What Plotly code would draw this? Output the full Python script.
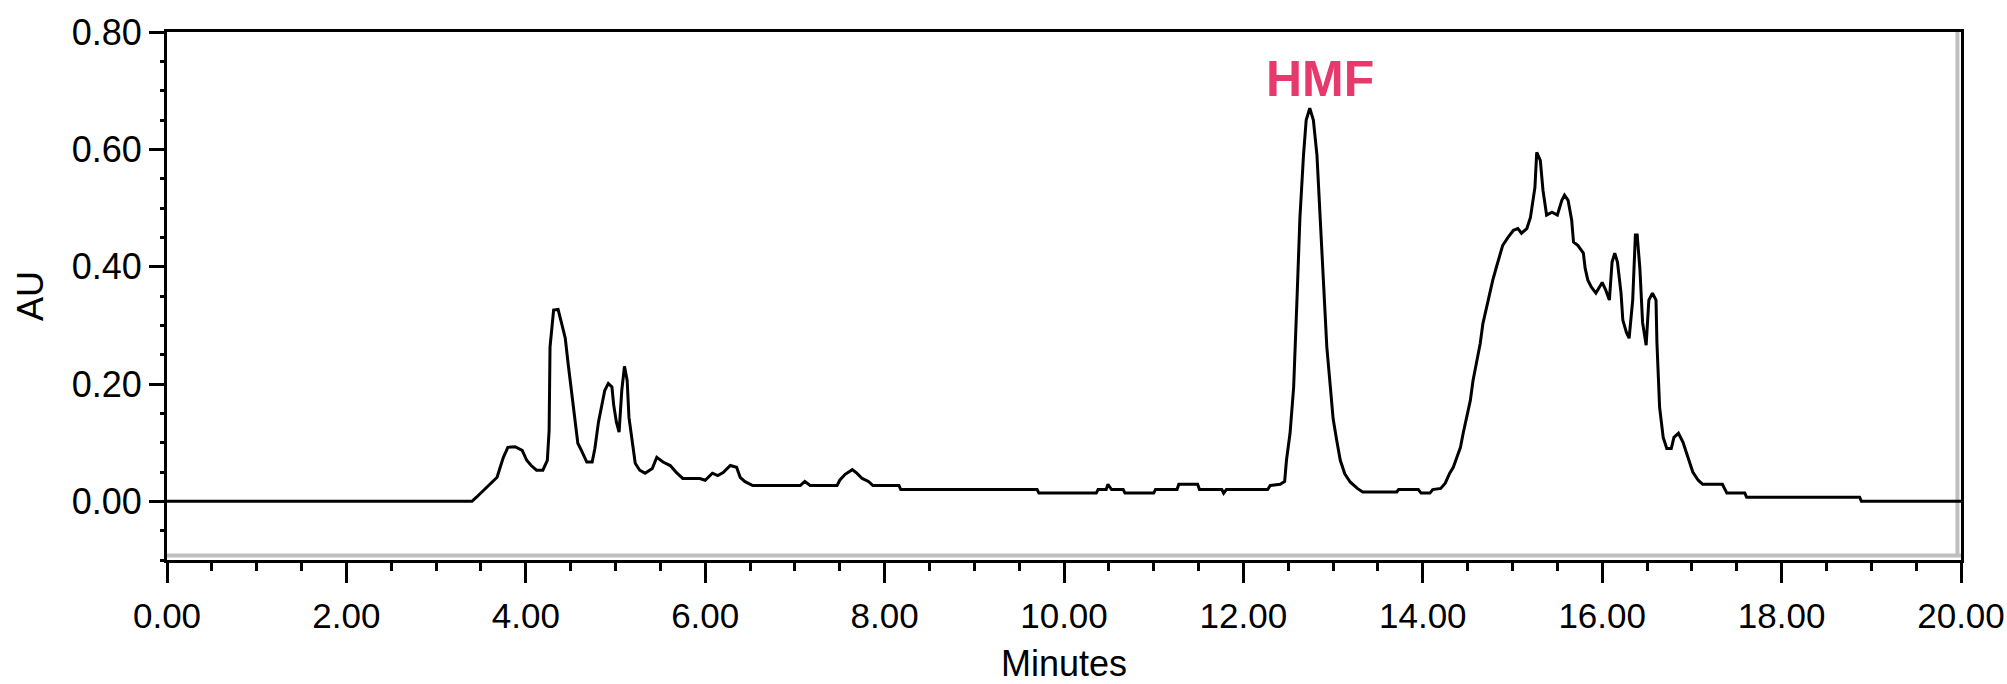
import plotly.graph_objects as go

# Retention time (minutes) and absorbance (AU)
minutes = [
    0.00, 3.40, 3.45, 3.53, 3.60, 3.68, 3.71, 3.75, 3.80, 3.88, 3.96, 4.01, 4.06, 4.12, 4.19,
    4.24, 4.26, 4.27, 4.31, 4.36, 4.40, 4.44, 4.47, 4.51, 4.55, 4.58, 4.62, 4.68, 4.74, 4.77,
    4.81, 4.85, 4.88, 4.92, 4.96, 4.98, 5.01, 5.04, 5.07, 5.10, 5.13, 5.15, 5.19, 5.22, 5.27,
    5.33, 5.41, 5.46, 5.53, 5.61, 5.68, 5.75, 5.94, 6.00, 6.08, 6.14, 6.20, 6.28, 6.35, 6.39,
    6.44, 6.53, 7.06, 7.11, 7.17, 7.47, 7.50, 7.56, 7.64, 7.69, 7.75, 7.82, 7.87, 8.16, 8.18,
    9.70, 9.72, 10.36, 10.38, 10.47, 10.49, 10.53, 10.66, 10.68, 11.00, 11.02, 11.26, 11.28, 11.49, 11.51,
    11.76, 11.78, 11.81, 12.27, 12.30, 12.41, 12.46, 12.48, 12.52, 12.56, 12.60, 12.63, 12.67, 12.70, 12.74,
    12.78, 12.82, 12.85, 12.89, 12.93, 12.97, 13.00, 13.04, 13.08, 13.13, 13.19, 13.27, 13.33, 13.71, 13.73,
    13.95, 13.98, 14.08, 14.11, 14.20, 14.25, 14.30, 14.34, 14.38, 14.42, 14.45, 14.49, 14.53, 14.56, 14.60,
    14.64, 14.67, 14.71, 14.75, 14.78, 14.82, 14.86, 14.89, 14.95, 15.01, 15.06, 15.10, 15.16, 15.20, 15.25,
    15.27, 15.31, 15.34, 15.38, 15.44, 15.50, 15.55, 15.58, 15.62, 15.66, 15.68, 15.73, 15.79, 15.81, 15.84,
    15.88, 15.93, 16.00, 16.04, 16.08, 16.11, 16.14, 16.17, 16.21, 16.23, 16.27, 16.30, 16.34, 16.37, 16.39,
    16.42, 16.45, 16.49, 16.52, 16.56, 16.60, 16.61, 16.64, 16.68, 16.72, 16.77, 16.80, 16.85, 16.90, 16.94,
    16.98, 17.01, 17.07, 17.12, 17.34, 17.39, 17.59, 17.61, 18.87, 18.89, 20.00,
]
absorbance = [
    0.000, 0.000, 0.007, 0.019, 0.030, 0.041, 0.056, 0.075, 0.092, 0.093, 0.087, 0.070, 0.061, 0.053, 0.053,
    0.070, 0.121, 0.263, 0.326, 0.327, 0.303, 0.278, 0.237, 0.189, 0.133, 0.099, 0.087, 0.067, 0.067, 0.090,
    0.135, 0.169, 0.189, 0.201, 0.195, 0.164, 0.135, 0.118, 0.189, 0.230, 0.206, 0.143, 0.099, 0.065, 0.053,
    0.048, 0.056, 0.075, 0.067, 0.061, 0.049, 0.039, 0.039, 0.036, 0.048, 0.044, 0.049, 0.061, 0.058, 0.041,
    0.034, 0.027, 0.027, 0.034, 0.027, 0.027, 0.036, 0.046, 0.054, 0.048, 0.039, 0.034, 0.027, 0.027, 0.020,
    0.020, 0.014, 0.014, 0.020, 0.020, 0.029, 0.020, 0.020, 0.014, 0.014, 0.020, 0.020, 0.029, 0.029, 0.020,
    0.020, 0.014, 0.020, 0.020, 0.027, 0.029, 0.034, 0.070, 0.116, 0.194, 0.355, 0.483, 0.590, 0.650, 0.670,
    0.650, 0.590, 0.501, 0.402, 0.263, 0.194, 0.141, 0.104, 0.070, 0.047, 0.033, 0.022, 0.016, 0.016, 0.020,
    0.020, 0.014, 0.014, 0.020, 0.022, 0.031, 0.048, 0.058, 0.075, 0.092, 0.116, 0.143, 0.172, 0.206, 0.240,
    0.269, 0.303, 0.331, 0.355, 0.377, 0.399, 0.423, 0.436, 0.450, 0.462, 0.465, 0.457, 0.465, 0.484, 0.535,
    0.595, 0.581, 0.530, 0.488, 0.493, 0.488, 0.513, 0.522, 0.513, 0.479, 0.442, 0.436, 0.423, 0.397, 0.377,
    0.365, 0.355, 0.373, 0.360, 0.343, 0.408, 0.423, 0.408, 0.355, 0.309, 0.288, 0.278, 0.343, 0.454, 0.454,
    0.397, 0.305, 0.266, 0.343, 0.355, 0.343, 0.271, 0.160, 0.109, 0.090, 0.090, 0.109, 0.116, 0.101, 0.082,
    0.065, 0.050, 0.036, 0.029, 0.029, 0.014, 0.014, 0.007, 0.007, 0.000, 0.000,
]

x_tick_vals = [0, 2, 4, 6, 8, 10, 12, 14, 16, 18, 20]
x_tick_text = ["0.00", "2.00", "4.00", "6.00", "8.00", "10.00", "12.00", "14.00", "16.00", "18.00", "20.00"]
y_tick_vals = [0.0, 0.2, 0.4, 0.6, 0.8]
y_tick_text = ["0.00", "0.20", "0.40", "0.60", "0.80"]

peak_label = "HMF"
peak_time = 12.85
peak_label_y = 0.72

fig = go.Figure()
fig.add_trace(go.Scatter(
    x=minutes, y=absorbance, mode="lines",
    line=dict(color="black", width=3), showlegend=False, hoverinfo="skip",
))

regular = "Liberation Sans, Arial, sans-serif"

fig.update_layout(
    width=2007, height=684,
    margin=dict(l=167, r=46, t=32, b=124, autoexpand=False),
    paper_bgcolor="white", plot_bgcolor="white",
    shapes=[
        dict(type="line", xref="paper", yref="paper", x0=0, x1=1, y0=0.0085, y1=0.0085,
             line=dict(color="#C0C0C0", width=4), layer="below"),
        dict(type="line", xref="paper", yref="paper", x0=0.998, x1=0.998, y0=0.0085, y1=1,
             line=dict(color="#C0C0C0", width=4), layer="below"),
    ],
    annotations=[
        dict(x=peak_time, y=peak_label_y, xref="x", yref="y", text="<b>" + peak_label + "</b>",
             showarrow=False, xanchor="center", yanchor="middle",
             font=dict(family=regular, size=50, color="#E8396D")),
    ],
)

fig.update_xaxes(
    range=[0, 20], showgrid=False, zeroline=False, automargin=False,
    showline=True, linecolor="black", linewidth=3, mirror=True,
    tickmode="array", tickvals=x_tick_vals, ticktext=x_tick_text,
    ticks="outside", ticklen=20, tickwidth=3, tickcolor="black",
    ticklabelstandoff=3, ticklabeloverflow="allow",
    tickfont=dict(family=regular, size=35, color="black"),
    minor=dict(dtick=0.5, tick0=0, ticks="outside", ticklen=8, tickwidth=3, tickcolor="black"),
    title=dict(text="Minutes", font=dict(family=regular, size=36, color="black"), standoff=19),
)
fig.update_yaxes(
    range=[-0.1, 0.8], showgrid=False, zeroline=False, automargin=False,
    showline=True, linecolor="black", linewidth=3, mirror=True,
    tickmode="array", tickvals=y_tick_vals, ticktext=y_tick_text,
    ticks="outside", ticklen=15, tickwidth=3, tickcolor="black",
    tickfont=dict(family=regular, size=36, color="black"),
    minor=dict(dtick=0.05, tick0=0, ticks="outside", ticklen=4, tickwidth=3, tickcolor="black"),
    title=dict(text="AU", font=dict(family=regular, size=36, color="black"), standoff=18),
)

fig.write_html(
    "out.html",
    config={"displayModeBar": False},
    post_script="document.body.style.margin='0';document.body.style.overflow='hidden';",
)
